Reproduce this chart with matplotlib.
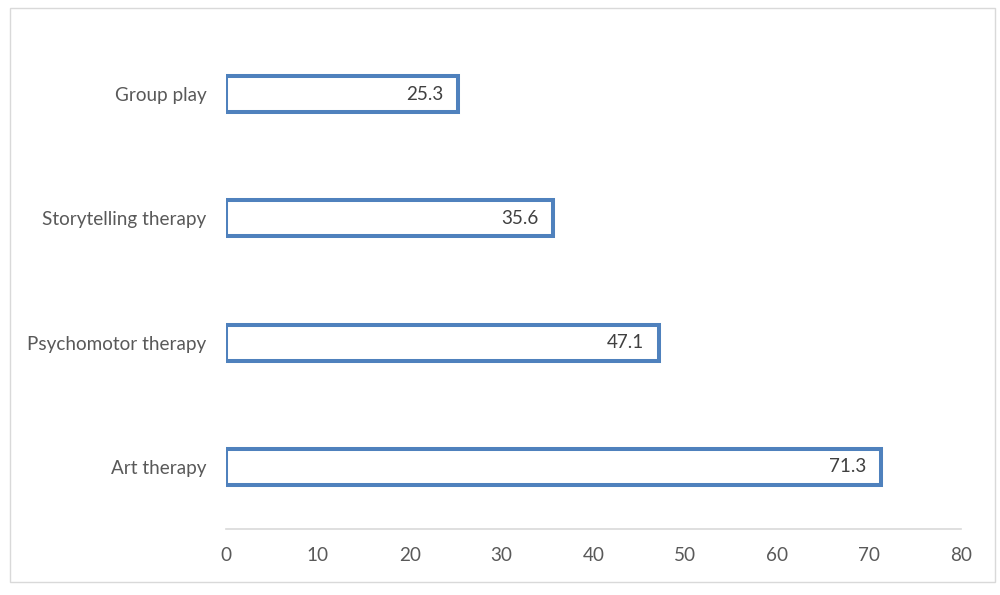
import matplotlib
matplotlib.use("Agg")
import matplotlib.pyplot as plt
from matplotlib.patches import Rectangle

# Veriler
categories = ["Art therapy", "Psychomotor therapy", "Storytelling therapy", "Group play"]
values = [71.3, 47.1, 35.6, 25.3]
xticks = [0, 10, 20, 30, 40, 50, 60, 70, 80]

plt.rcParams["font.family"] = ["Lato", "DejaVu Sans"]

fig = plt.figure(figsize=(10, 5.95), dpi=100)
ax = fig.add_axes([0.226, 0.111, 0.735, 0.835])

blue = "#4F81BD"
bars = ax.barh(categories, values, height=0.29, color="white", edgecolor=blue, linewidth=2.9)

for bar, v in zip(bars, values):
    ax.annotate(f"{v}", (bar.get_width(), bar.get_y() + bar.get_height() / 2),
                xytext=(-10.5, 0), textcoords="offset points", ha="right", va="center",
                fontsize=13.6, color="#404040")

ax.set_xlim(0, 80)
ax.set_ylim(-0.5, 3.5)
ax.set_xticks(xticks)
ax.tick_params(axis="both", length=0, labelsize=13.6, labelcolor="#595959")
ax.tick_params(axis="x", pad=13)
ax.tick_params(axis="y", pad=14)
for s in ["top", "right", "left"]:
    ax.spines[s].set_visible(False)
ax.spines["bottom"].set_color("#D9D9D9")
ax.spines["bottom"].set_linewidth(1.2)

# Dış çerçeve
fig.patches.append(Rectangle((10 / 1000, 1 - 582 / 595), 985 / 1000, 574 / 595,
                             transform=fig.transFigure, fill=False,
                             edgecolor="#D9D9D9", linewidth=1))

fig.savefig("out.png", dpi=100)
